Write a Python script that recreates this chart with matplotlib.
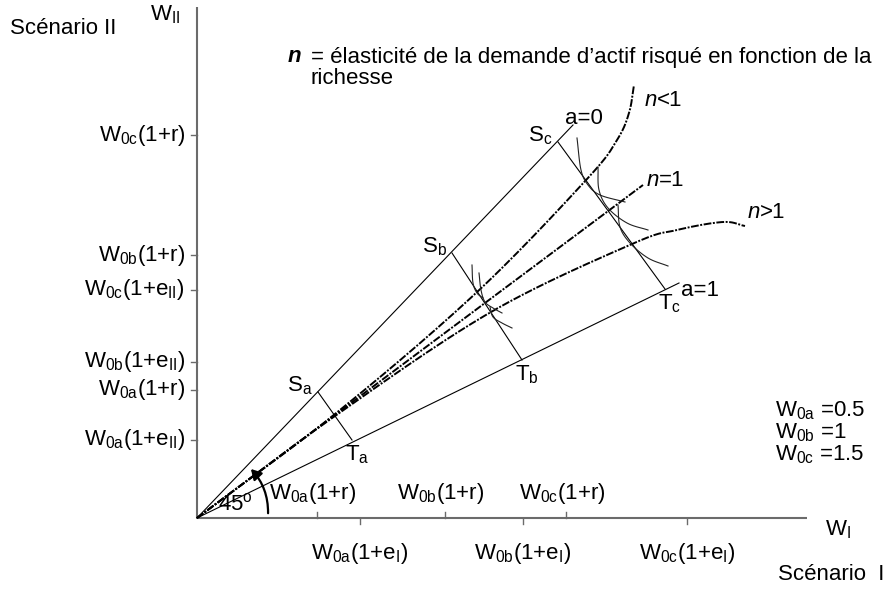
import matplotlib
matplotlib.use('Agg')
import matplotlib.pyplot as plt
import numpy as np
from matplotlib.patches import FancyArrowPatch

plt.rcParams['font.family'] = ['Liberation Sans', 'DejaVu Sans']
plt.rcParams['mathtext.fontset'] = 'custom'
plt.rcParams['mathtext.rm'] = 'Liberation Sans'
plt.rcParams['mathtext.it'] = 'Liberation Sans:italic'
plt.rcParams['mathtext.bf'] = 'Liberation Sans:bold'

# wealth levels on each axis (diagram units, origin at 0)
y_ticks = [383, 263, 228, 156, 128, 78]
y_labels = [r'W$_{\mathrm{0c}}$(1+r)', r'W$_{\mathrm{0b}}$(1+r)',
            r'W$_{\mathrm{0c}}$(1+e$_{\mathrm{II}}$)', r'W$_{\mathrm{0b}}$(1+e$_{\mathrm{II}}$)',
            r'W$_{\mathrm{0a}}$(1+r)', r'W$_{\mathrm{0a}}$(1+e$_{\mathrm{II}}$)']
x_ticks_r = [120, 248, 369]
x_labels_r = [r'W$_{\mathrm{0a}}$(1+r)', r'W$_{\mathrm{0b}}$(1+r)', r'W$_{\mathrm{0c}}$(1+r)']
x_ticks_e = [163, 326, 490]
x_labels_e = [r'W$_{\mathrm{0a}}$(1+e$_{\mathrm{I}}$)', r'W$_{\mathrm{0b}}$(1+e$_{\mathrm{I}}$)',
              r'W$_{\mathrm{0c}}$(1+e$_{\mathrm{I}}$)']

# budget lines S-T for the three wealth levels
s_x = [121, 255, 361]
s_y = [126, 265, 376]
t_x = [155, 325, 468]
t_y = [78, 158, 229]
s_names = ['a', 'b', 'c']

# a=0 (certainty) ray and a=1 ray end points
ray0_end = (376, 393)
ray1_end = (482, 235)

# expansion paths
path_lt1_x = [0, 138, 279, 390, 420, 432, 437]
path_lt1_y = [0, 104, 225, 339, 378, 405, 433]
path_eq1_x = [0, 446]
path_eq1_y = [0, 333]
path_gt1_x = [0, 138, 294, 435, 480, 526, 548]
path_gt1_y = [0, 102, 206, 274, 288, 296, 292]

# indifference curves around the b and c optima
indiff = [
    ([275, 276, 280, 286], [253, 235, 225, 220]),
    ([282, 284, 288, 296, 305], [245, 228, 216, 210, 205]),
    ([293, 296, 305, 315], [211, 201, 195, 190]),
    ([380, 384, 391, 403, 428], [380, 348, 333, 323, 316]),
    ([401, 402, 411, 430, 451], [351, 328, 310, 295, 288]),
    ([421, 423, 433, 451, 471], [313, 291, 275, 260, 252]),
]

wealth_notes = [r'W$_{\mathrm{0a}}$ =0.5', r'W$_{\mathrm{0b}}$ =1', r'W$_{\mathrm{0c}}$ =1.5']


def smooth(xs, ys, n=25):
    # Catmull-Rom through the given points
    pts = np.column_stack([xs, ys]).astype(float)
    if len(pts) < 3:
        return pts[:, 0], pts[:, 1]
    p = np.vstack([pts[0] * 2 - pts[1], pts, pts[-1] * 2 - pts[-2]])
    out = []
    for i in range(1, len(p) - 2):
        p0, p1, p2, p3 = p[i - 1], p[i], p[i + 1], p[i + 2]
        t = np.linspace(0, 1, n)[:, None]
        seg = 0.5 * ((2 * p1) + (-p0 + p2) * t + (2 * p0 - 5 * p1 + 4 * p2 - p3) * t ** 2
                     + (-p0 + 3 * p1 - 3 * p2 + p3) * t ** 3)
        out.append(seg if i == 1 else seg[1:])
    out = np.vstack(out)
    return out[:, 0], out[:, 1]


fig = plt.figure(figsize=(8.96, 5.89), dpi=100)
ax = fig.add_axes([0, 0, 1, 1])
ax.set_xlim(-197, 896 - 197)
ax.set_ylim(518 - 589, 518)
ax.axis('off')

fs = 16
axis_col = '#6b6b6b'

# axes
ax.plot([0, 0], [0, 511], color=axis_col, lw=1.5, solid_capstyle='butt')
ax.plot([0, 610], [0, 0], color=axis_col, lw=1.5, solid_capstyle='butt')

for yv, lab in zip(y_ticks, y_labels):
    ax.plot([-6, 0], [yv, yv], color=axis_col, lw=1)
    ax.text(-12, yv, lab, ha='right', va='center', fontsize=fs)
for xv, lab in zip(x_ticks_r, x_labels_r):
    ax.plot([xv, xv], [0, 6], color=axis_col, lw=1)
    ax.text(xv - 4, 24, lab, ha='center', va='center', fontsize=fs)
for xv, lab in zip(x_ticks_e, x_labels_e):
    ax.plot([xv, xv], [0, -6], color=axis_col, lw=1)
    ax.text(xv, -36, lab, ha='center', va='center', fontsize=fs)

# rays
ax.plot([0, ray0_end[0]], [0, ray0_end[1]], color='black', lw=0.8)
ax.plot([0, ray1_end[0]], [0, ray1_end[1]], color='black', lw=0.8)

# budget lines
for sx, sy, tx, ty, nm in zip(s_x, s_y, t_x, t_y, s_names):
    ax.plot([sx, tx], [sy, ty], color='black', lw=0.8)
    ax.text(sx - 18, sy + 6, r'S$_{\mathrm{%s}}$' % nm, ha='center', va='center', fontsize=fs)
    ax.text(tx + 5, ty - 15, r'T$_{\mathrm{%s}}$' % nm, ha='center', va='center', fontsize=fs)

# expansion paths
dash = (0, (4, 0.8, 1, 0.8))
for xs, ys in [(path_lt1_x, path_lt1_y), (path_eq1_x, path_eq1_y), (path_gt1_x, path_gt1_y)]:
    cx, cy = smooth(xs, ys)
    ax.plot(cx, cy, color='black', lw=1.4, linestyle=dash)

for xs, ys in indiff:
    cx, cy = smooth(xs, ys, n=10)
    ax.plot(cx, cy, color='#222222', lw=0.8)

# 45 degree arc
arc = FancyArrowPatch((71, 2), (52, 51), connectionstyle='arc3,rad=0.22',
                      arrowstyle='-|>,head_length=6,head_width=3.5', color='black', lw=1.6)
ax.add_patch(arc)
ax.text(38, 14, r'45$^{\mathrm{o}}$', ha='center', va='center', fontsize=fs)

# curve labels
ax.text(387, 399, 'a=0', ha='center', va='center', fontsize=fs)
ax.text(503, 227, 'a=1', ha='center', va='center', fontsize=fs)
for lx, ly, rel in [(460, 418, '<1'), (462, 338, '=1'), (563, 305, '>1')]:
    ax.text(lx, ly, 'n', ha='right', va='center', fontsize=fs, style='italic')
    ax.text(lx, ly, rel, ha='left', va='center', fontsize=fs)

# title note
ax.text(104, 461, 'n', ha='right', va='center', fontsize=16, style='italic', weight='bold')
ax.text(114, 471, '= élasticité de la demande d’actif risqué en fonction de la\nrichesse',
        ha='left', va='top', fontsize=16, linespacing=1.0)

# axis names
ax.text(-32, 503, r'W$_{\mathrm{II}}$', ha='center', va='center', fontsize=fs)
ax.text(-187, 490, 'Scénario II', ha='left', va='center', fontsize=fs)
ax.text(641, -12, r'W$_{\mathrm{I}}$', ha='center', va='center', fontsize=fs)
ax.text(581, -56, 'Scénario  I', ha='left', va='center', fontsize=fs)

for i, note in enumerate(wealth_notes):
    ax.text(578, 107 - 22 * i, note, ha='left', va='center', fontsize=fs)

fig.savefig('out.png', dpi=100)
